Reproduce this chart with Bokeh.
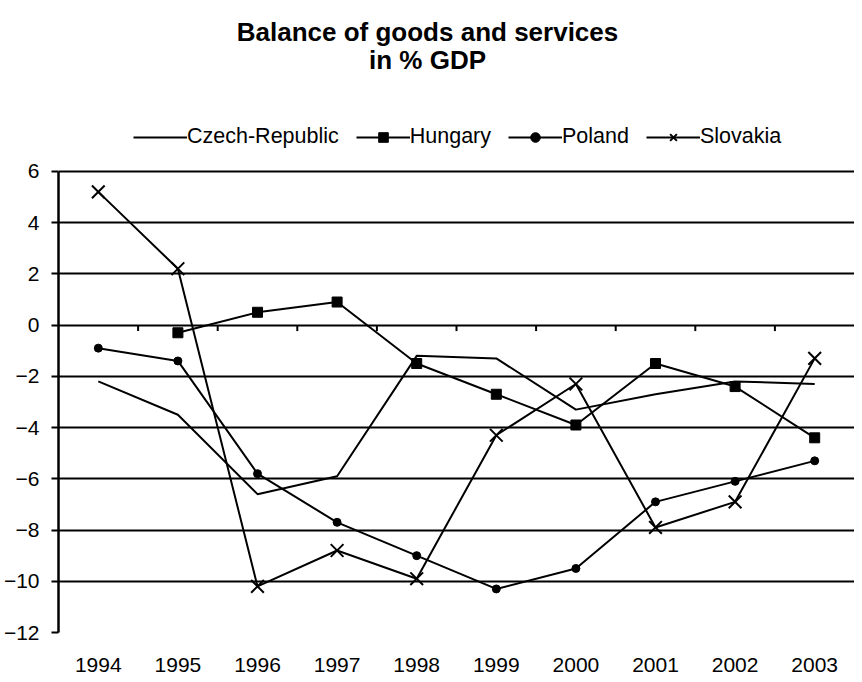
from bokeh.plotting import figure
from bokeh.models import Legend, LegendItem, Label, FixedTicker, Range1d
from bokeh.embed import file_html
from bokeh.resources import INLINE
import math

nan = math.nan
years = [1994, 1995, 1996, 1997, 1998, 1999, 2000, 2001, 2002, 2003]
czech = [-2.2, -3.5, -6.6, -5.9, -1.2, -1.3, -3.3, -2.7, -2.2, -2.3]
hungary = [nan, -0.3, 0.5, 0.9, -1.5, -2.7, -3.9, -1.5, -2.4, -4.4]
poland = [-0.9, -1.4, -5.8, -7.7, -9.0, -10.3, -9.5, -6.9, -6.1, -5.3]
slovakia = [5.2, 2.2, -10.2, -8.8, -9.9, -4.3, -2.3, -7.9, -6.9, -1.3]
y_ticks = [-12, -10, -8, -6, -4, -2, 0, 2, 4, 6]
boundaries = [y + 0.5 for y in years[:-1]]
zeros = [0] * len(boundaries)
title_lines = ["Balance of goods and services", "in % GDP"]

FONT = "Liberation Sans"
Y_MIN, Y_MAX = -12, 6
Y_TOP = 12.67  # headroom inside the frame holds the title and legend

p = figure(width=854, height=674, output_backend="svg", toolbar_location=None,
           x_range=Range1d(years[0] - 0.5, years[-1] + 0.5),
           y_range=Range1d(Y_MIN, Y_TOP), title=None,
           min_border_left=54, min_border_right=0, min_border_bottom=0,
           min_border_top=0)
p.outline_line_color = None
p.background_fill_color = "white"
p.border_fill_color = "white"

# grid
p.xgrid.grid_line_color = None
p.ygrid.ticker = FixedTicker(ticks=y_ticks)
p.ygrid.grid_line_color = "black"
p.ygrid.grid_line_width = 2

# y axis
p.yaxis.ticker = FixedTicker(ticks=y_ticks)
p.yaxis.bounds = (Y_MIN, Y_MAX)
p.yaxis.axis_line_width = 2.5
p.yaxis.axis_line_color = "black"
p.yaxis.major_tick_out = 7
p.yaxis.major_tick_in = 0
p.yaxis.major_tick_line_width = 2
p.yaxis.minor_tick_line_color = None
p.yaxis.major_label_standoff = 12
p.yaxis.major_label_text_font = FONT
p.yaxis.major_label_text_font_size = "21px"
p.yaxis.major_label_text_color = "black"

# x axis (labels at bottom)
p.xaxis.ticker = FixedTicker(ticks=years)
p.xaxis.axis_line_color = None
p.xaxis.major_tick_line_color = None
p.xaxis.major_tick_out = 0
p.xaxis.major_tick_in = 0
p.xaxis.minor_tick_line_color = None
p.xaxis.axis_label_standoff = 0
p.xaxis.major_label_standoff = 25
p.xaxis.major_label_text_font = FONT
p.xaxis.major_label_text_font_size = "21px"
p.xaxis.major_label_text_color = "black"

# boundary tick marks on the zero line
p.ray(x=boundaries, y=zeros, length=6, length_units="screen",
      angle=-math.pi / 2, line_color="black", line_width=2)

# series
r_cz = p.line(years, czech, line_color="black", line_width=2)
r_hu = p.line(years, hungary, line_color="black", line_width=2)
m_hu = p.scatter(years, hungary, marker="square", size=10, fill_color="black", line_color="black")
r_pl = p.line(years, poland, line_color="black", line_width=2)
m_pl = p.scatter(years, poland, marker="circle", size=8, fill_color="black", line_color="black")
r_sk = p.line(years, slovakia, line_color="black", line_width=2)
m_sk = p.scatter(years, slovakia, marker="x", size=18, line_color="black", line_width=2)

legend = Legend(items=[
    LegendItem(label="Czech-Republic", renderers=[r_cz]),
    LegendItem(label="Hungary", renderers=[r_hu, m_hu]),
    LegendItem(label="Poland", renderers=[r_pl, m_pl]),
    LegendItem(label="Slovakia", renderers=[r_sk, m_sk]),
], orientation="horizontal", location=(75, 483),
    label_text_font=FONT, label_text_font_size="21.5px", label_text_color="black",
    glyph_width=54, glyph_height=24, label_standoff=0, spacing=17,
    padding=0, margin=0, border_line_color=None, background_fill_alpha=0)
p.add_layout(legend, "center")

# two-line bold title, centred on the page
for txt, ys in zip(title_lines, [601, 573]):
    p.add_layout(Label(x=369, y=ys, x_units="screen", y_units="screen", text=txt,
                       text_align="center", text_baseline="middle",
                       text_font=FONT, text_font_size="26px", text_font_style="bold",
                       text_color="black"))

open("out.html", "w").write(file_html(p, INLINE))
